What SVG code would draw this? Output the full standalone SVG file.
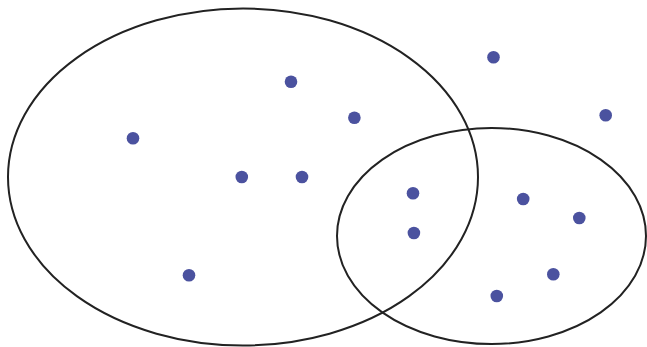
<svg xmlns="http://www.w3.org/2000/svg" width="647" height="347" viewBox="0 0 647 347">
<style>
.set{fill:none;stroke:#222;stroke-width:2}
.pt{fill:#4b529f}
</style>
<rect width="647" height="347" fill="#fff"/>
<g id="setA"><ellipse class="set" cx="243" cy="177" rx="235" ry="168.5"/></g>
<g id="setB"><ellipse class="set" cx="491.5" cy="236" rx="154.5" ry="108"/></g>
<g id="points">
<circle class="pt" cx="133" cy="138.3" r="6.3"/>
<circle class="pt" cx="291" cy="81.7" r="6.3"/>
<circle class="pt" cx="354.4" cy="117.7" r="6.3"/>
<circle class="pt" cx="241.8" cy="177" r="6.3"/>
<circle class="pt" cx="302" cy="177" r="6.3"/>
<circle class="pt" cx="189" cy="275.3" r="6.3"/>
<circle class="pt" cx="493.5" cy="57.3" r="6.3"/>
<circle class="pt" cx="605.7" cy="115.3" r="6.3"/>
<circle class="pt" cx="413" cy="193.3" r="6.3"/>
<circle class="pt" cx="413.9" cy="233" r="6.3"/>
<circle class="pt" cx="523.2" cy="199" r="6.3"/>
<circle class="pt" cx="579.3" cy="218" r="6.3"/>
<circle class="pt" cx="553.3" cy="274.3" r="6.3"/>
<circle class="pt" cx="496.8" cy="296" r="6.3"/>
</g>
</svg>
